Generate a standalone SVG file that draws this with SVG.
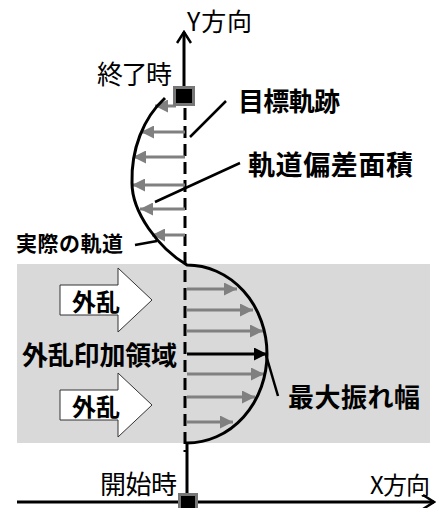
<svg xmlns="http://www.w3.org/2000/svg" width="438" height="508" viewBox="0 0 438 508">
<style>
text{font-family:"Noto Sans CJK JP","Noto Sans",sans-serif;fill:#000}
.b{font-weight:bold}
.r{font-weight:normal}
.ga{stroke:#808080;stroke-width:3;fill:none}
.lead{stroke:#000;stroke-width:2.5;fill:none}
.blk{fill:#fff;stroke:#333;stroke-width:1}
</style>
<defs>
<marker id="gh" markerUnits="userSpaceOnUse" markerWidth="14" markerHeight="13" refX="13" refY="6.5" orient="auto">
<path d="M0,0 L13,6.5 L0,13 Z" fill="#808080"/>
</marker>
<marker id="bh" markerUnits="userSpaceOnUse" markerWidth="14" markerHeight="13" refX="13" refY="6.5" orient="auto">
<path d="M0,0 L13,6.5 L0,13 Z" fill="#000"/>
</marker>
<marker id="open" markerUnits="userSpaceOnUse" markerWidth="14" markerHeight="16" refX="12" refY="8" orient="auto">
<path d="M1,1 L12,8 L1,15" fill="none" stroke="#000" stroke-width="2.5"/>
</marker>
</defs>

<g id="region">
<rect x="17" y="264" width="413" height="179" fill="#d9d9d9"/>
</g>

<g id="axes">
<line x1="184" y1="86" x2="184" y2="32" stroke="#000" stroke-width="3" marker-end="url(#open)"/>
<line x1="17" y1="502" x2="434" y2="502" stroke="#000" stroke-width="3" marker-end="url(#open)"/>
<text class="r" x="187" y="31" font-size="25" textLength="65">Y方向</text>
<text class="r" x="370" y="494" font-size="24" textLength="60">X方向</text>
</g>

<g id="target-path">
<line x1="185" y1="108" x2="185" y2="452" stroke="#000" stroke-width="3" stroke-dasharray="12 6"/>
</g>

<g id="connectors">
<line class="ga" x1="176" y1="106" x2="155" y2="106" marker-end="url(#gh)"/>
<line class="ga" x1="185" y1="132" x2="141" y2="132" marker-end="url(#gh)"/>
<line class="ga" x1="185" y1="157" x2="133" y2="157" marker-end="url(#gh)"/>
<line class="ga" x1="185" y1="185" x2="132" y2="185" marker-end="url(#gh)"/>
<line class="ga" x1="185" y1="209" x2="140" y2="209" marker-end="url(#gh)"/>
<line class="ga" x1="185" y1="235" x2="152" y2="235" marker-end="url(#gh)"/>

<line class="ga" x1="187" y1="289" x2="237" y2="289" marker-end="url(#gh)"/>
<line class="ga" x1="187" y1="310" x2="253" y2="310" marker-end="url(#gh)"/>
<line class="ga" x1="187" y1="331" x2="263" y2="331" marker-end="url(#gh)"/>
<line x1="187" y1="354" x2="267" y2="354" stroke="#000" stroke-width="3" marker-end="url(#bh)"/>
<line class="ga" x1="187" y1="374" x2="264" y2="374" marker-end="url(#gh)"/>
<line class="ga" x1="187" y1="397" x2="255" y2="397" marker-end="url(#gh)"/>
<line class="ga" x1="187" y1="422" x2="233" y2="422" marker-end="url(#gh)"/>

<line class="lead" x1="226" y1="101" x2="190" y2="137"/>
<line class="lead" x1="240" y1="163" x2="155" y2="202"/>
<line class="lead" x1="135" y1="245" x2="157" y2="241"/>
<line class="lead" x1="266" y1="355" x2="278" y2="396"/>
</g>

<g id="actual-path">
<path d="M165,98 C143,118 131,150 132,183 C132,212 158,248 187,265 A80,89 0 0 1 187,443 L187,500" fill="none" stroke="#000" stroke-width="3"/>
</g>

<g id="end-point">
<rect x="174.5" y="87.5" width="19" height="17" fill="#000" stroke="#777" stroke-width="3"/>
<text class="r" x="97" y="84" font-size="26" textLength="75">終了時</text>
</g>

<g id="start-point">
<rect x="179.5" y="494.5" width="17" height="16" fill="#000" stroke="#777" stroke-width="3"/>
<text class="r" x="100" y="494" font-size="26" textLength="77">開始時</text>
</g>

<g id="label-target">
<text class="b" x="238" y="111" font-size="26" textLength="102">目標軌跡</text>
</g>
<g id="label-area">
<text class="b" x="248" y="175" font-size="27" textLength="165">軌道偏差面積</text>
</g>
<g id="label-actual">
<text class="b" x="16" y="251" font-size="21" textLength="107">実際の軌道</text>
</g>
<g id="label-region">
<text class="b" x="22" y="365" font-size="26" textLength="155">外乱印加領域</text>
</g>
<g id="label-max">
<text class="b" x="288" y="407" font-size="26" textLength="132">最大振れ幅</text>
</g>

<g id="disturbance-1">
<polygon class="blk" points="60,285 118,285 118,268 152,300 118,332 118,315 60,315"/>
<text class="b" x="72" y="311" font-size="24" textLength="48">外乱</text>
</g>
<g id="disturbance-2">
<polygon class="blk" points="60,390 118,390 118,373 152,405 118,437 118,420 60,420"/>
<text class="b" x="72" y="416" font-size="24" textLength="48">外乱</text>
</g>
</svg>
